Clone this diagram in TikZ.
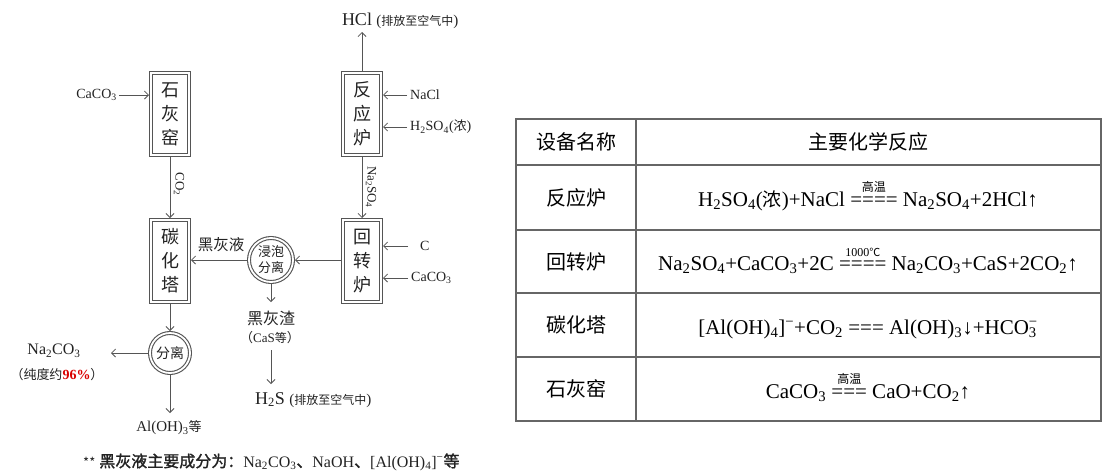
\documentclass[tikz,border=0pt]{standalone}
\usepackage{fontspec}
\usetikzlibrary{arrows.meta}
\setmainfont{Liberation Serif}
\newfontfamily\cjk{Noto Sans CJK SC}
\newfontfamily\cjkb[FakeBold=1.5]{Noto Sans CJK SC}
\newcommand{\ssb}[1]{\textsubscript{#1}}
\newcommand{\ssp}[1]{\textsuperscript{#1}}
\newcommand{\cond}[2]{\leavevmode\vbox{\offinterlineskip\halign{\hfil##\hfil\cr #1\cr\noalign{\kern3.5pt}#2\cr}}}
\newcommand{\fsz}[1]{\fontsize{#1}{#1}\selectfont}
\definecolor{lc}{HTML}{555555}
\definecolor{tc}{HTML}{222222}
\begin{document}
\begin{tikzpicture}[x=1pt,y=-1pt,
  box/.style={draw=lc, double=white, double distance=1.8pt, line width=1.1pt,
    minimum width=38pt, minimum height=82pt, inner sep=0pt, outer sep=2pt,
    font=\cjk\fontsize{18}{24}\selectfont, align=center, text=tc},
  circ/.style={circle, draw=lc, double=white, double distance=1.8pt, line width=1.1pt,
    inner sep=0pt, outer sep=2pt, align=center, text=tc},
  arr/.style={draw=lc, line width=0.8pt, -{Straight Barb[length=4pt,width=8pt]}},
  lbl/.style={inner sep=0pt, text=tc},
  tline/.style={draw=black!60, line width=1.2pt},
  tcell/.style={inner sep=0pt, text=black}]
\useasboundingbox (0,0) rectangle (1104,474);
% ---------- flow chart ----------
\node[box] (SHY) at (170,114) {石\\灰\\窑};
\node[box] (FYL) at (362,114) {反\\应\\炉};
\node[box] (HZL) at (362,261) {回\\转\\炉};
\node[box] (THT) at (170,261) {碳\\化\\塔};
\node[circ, minimum size=44pt, font=\cjk\fontsize{13}{16}\selectfont] (JP) at (271,260) {浸泡\\分离};
\node[circ, minimum size=40pt, font=\cjk\fsz{14}] (FL) at (170,353) {分离};

% inputs / outputs
\node[lbl, anchor=east, font=\fsz{14}, inner xsep=2pt] (caco3a) at (119,95) {CaCO\ssb{3}};
\draw[arr] (caco3a.east) -- (caco3a.east -| SHY.west);

\draw[arr] (SHY.south) -- (THT.north);
\node[lbl, rotate=-90, font=\fsz{13}] (co2) at (179,184) {CO\ssb{2}};

\node[lbl, anchor=base, font=\fsz{18}] (hcl) at (357,25) {HCl};
\node[lbl, anchor=base west, font=\fsz{15}, xshift=4pt] (hcln) at (hcl.base east) {({\cjk\fsz{12}排放至空气中})};
\coordinate (hcltip) at (362,32);
\draw[arr] (FYL.north) -- (hcltip);

\node[lbl, anchor=west, font=\fsz{14}, inner xsep=3pt] (nacl) at (407,95) {NaCl};
\draw[arr] (nacl.west) -- (nacl.west -| FYL.east);
\node[lbl, anchor=west, font=\fsz{14}, inner xsep=3pt] (h2so4) at (407,127) {H\ssb{2}SO\ssb{4}({\cjk\fsz{13}浓})};
\draw[arr] (h2so4.west) -- (h2so4.west -| FYL.east);

\draw[arr] (FYL.south) -- (HZL.north);
\node[lbl, rotate=-90, font=\fsz{13}] (na2so4) at (371,187) {Na\ssb{2}SO\ssb{4}};

\node[lbl, anchor=west, font=\fsz{14}, inner xsep=12pt] (cc) at (408,246) {C};
\draw[arr] (cc.west) -- (cc.west -| HZL.east);
\node[lbl, anchor=west, font=\fsz{14}, inner xsep=3pt] (caco3b) at (408,278) {CaCO\ssb{3}};
\draw[arr] (caco3b.west) -- (caco3b.west -| HZL.east);

\draw[arr] (HZL.west |- JP.east) -- (JP.east);
\draw[arr] (JP.west) -- (JP.west -| THT.east);
\node[lbl, font=\cjk\fsz{15.5}] (hhy) at (221,245) {黑灰液};

\coordinate (hhztip) at (271,302);
\draw[arr] (JP.south) -- (hhztip);
\node[lbl, font=\cjk\fsz{16}] (hhz) at (271,318) {黑灰渣};
\node[lbl, font=\fsz{13}] (cas) at (270,338) {{\cjk\fsz{13}（}CaS{\cjk\fsz{12}等}{\cjk\fsz{13}）}};
\coordinate (h2stail) at (271,350);
\coordinate (h2stip) at (271,384);
\draw[arr] (h2stail) -- (h2stip);
\node[lbl, anchor=base, font=\fsz{18}] (h2s) at (270,404) {H\ssb{2}S};
\node[lbl, anchor=base west, font=\fsz{15}, xshift=4pt] (h2sn) at (h2s.base east) {({\cjk\fsz{12}排放至空气中})};

\draw[arr] (THT.south) -- (FL.north);
\coordinate (natip) at (111,353);
\draw[arr] (FL.west) -- (natip);
\node[lbl, font=\fsz{16}] (na2co3) at (54,351) {Na\ssb{2}CO\ssb{3}};
\node[lbl, font=\cjk\fsz{13}] (pur) at (57,375) {（纯度约{\rmfamily\bfseries\fsz{14}\color{red!85!black}96\%}）};
\coordinate (altip) at (170,413);
\draw[arr] (FL.south) -- (altip);
\node[lbl, font=\fsz{15}] (aloh) at (169,428) {Al(OH)\ssb{3}{\cjk\fsz{13}等}};

\node[lbl, anchor=west, font=\fsz{16}] (note) at (83,462) {{\cjk\fsz{13}**} {\cjkb\fsz{16}黑灰液主要成分为：}Na\ssb{2}CO\ssb{3}{\cjkb\fsz{16}、}NaOH{\cjkb\fsz{16}、}[Al(OH)\ssb{4}]\ssp{−}{\cjkb\fsz{16}等}};

% ---------- table ----------
\draw[tline] (516,119) rectangle (1101,421);
\draw[tline] (636,119) -- (636,421);
\foreach \yy in {165,230,293,357} \draw[tline] (516,\yy) -- (1101,\yy);
\node[tcell, font=\cjk\fsz{20}] (h1) at (576,142) {设备名称};
\node[tcell, font=\cjk\fsz{20}] (h2) at (868,142) {主要化学反应};
\node[tcell, font=\cjk\fsz{20}] (r1) at (576,197.5) {反应炉};
\node[tcell, font=\cjk\fsz{20}] (r2) at (576,261.5) {回转炉};
\node[tcell, font=\cjk\fsz{20}] (r3) at (576,325) {碳化塔};
\node[tcell, font=\cjk\fsz{20}] (r4) at (576,389) {石灰窑};
\node[tcell, font=\fsz{21}, anchor=base] (e1) at (868,206) {H\ssb{2}SO\ssb{4}({\cjk\fsz{19}浓})+NaCl \cond{\cjk\fsz{12}高温}{====} Na\ssb{2}SO\ssb{4}+2HCl↑};
\node[tcell, font=\fsz{21}, anchor=base] (e2) at (868,270) {Na\ssb{2}SO\ssb{4}+CaCO\ssb{3}+2C \cond{\fsz{12}1000{\cjk\fsz{11}℃}}{====} Na\ssb{2}CO\ssb{3}+CaS+2CO\ssb{2}↑};
\node[tcell, font=\fsz{21}, anchor=base] (e3) at (868,334) {[Al(OH)\ssb{4}]\ssp{−}+CO\ssb{2} === Al(OH)\ssb{3}↓+HCO\rlap{\ssb{3}}\ssp{−}};
\node[tcell, font=\fsz{21}, anchor=base] (e4) at (868,398) {CaCO\ssb{3} \cond{\cjk\fsz{12}高温}{===} CaO+CO\ssb{2}↑};
\end{tikzpicture}
\end{document}
